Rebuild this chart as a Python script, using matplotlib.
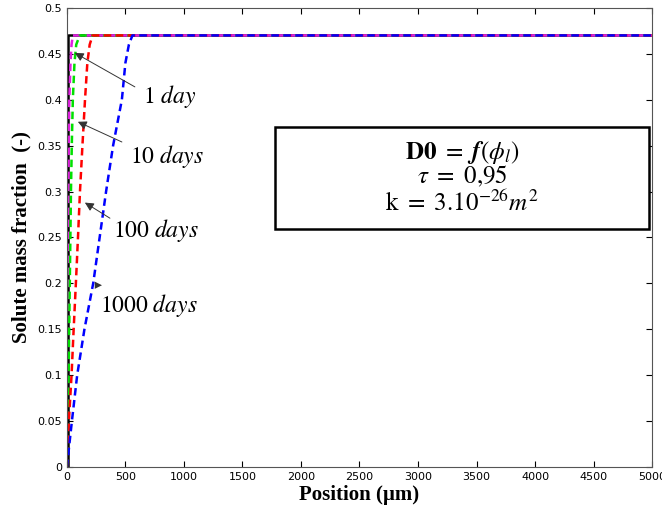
import matplotlib.pyplot as plt
from matplotlib.patches import Rectangle

plt.rcParams['mathtext.fontset'] = 'stix'

# solute profile: x position (um) at each mass fraction level
y_levels = [0, 0.05, 0.1, 0.15, 0.2, 0.25, 0.3, 0.35, 0.4, 0.44, 0.46, 0.47]
x_initial = [10, 10, 10, 10, 10, 10, 10, 10, 10, 10, 10, 10]
x_1day = [0, 3, 5, 7, 9, 11, 13, 16, 21, 31, 40, 51]
x_10days = [0, 8, 15, 20, 25, 30, 35, 42, 51, 65, 80, 110]
x_100days = [0, 17, 40, 58, 77, 95, 112, 133, 155, 175, 195, 220]
x_1000days = [0, 43, 88, 150, 225, 280, 335, 395, 470, 500, 530, 560]
x_end = 5000
plateau = 0.47

yticks = [0, 0.05, 0.1, 0.15, 0.2, 0.25, 0.3, 0.35, 0.4, 0.45, 0.5]
ytick_labels = ["0", "0.05", "0.1", "0.15", "0.2", "0.25", "0.3", "0.35", "0.4", "0.45", "0.5"]
xticks = list(range(0, 5001, 500))

fig = plt.figure(figsize=(6.62, 5.26), dpi=100)
ax = fig.add_axes([0.101, 0.112, 0.884, 0.873])

# black initial profile
ax.plot(x_initial + [x_end], y_levels + [plateau], color="black", lw=1.8)

curves = [(x_1day, "#e020e0"), (x_10days, "#00e000"), (x_100days, "red"), (x_1000days, "blue")]
for xs, c in curves:
    ax.plot(xs + [x_end], y_levels + [plateau], color=c, lw=1.8, ls=(0, (3, 1.8)))

ax.set_xlim(0, 5000)
ax.set_ylim(0, 0.5)
ax.set_xticks(xticks)
ax.set_yticks(yticks)
ax.set_yticklabels(ytick_labels)
ax.tick_params(direction="in", top=True, right=True, labelsize=8, length=4)
for s in ax.spines.values():
    s.set_color("#555555")

ax.set_xlabel("Position (µm)", family="Liberation Serif", fontweight="bold", fontsize=15, labelpad=2)
ax.set_ylabel("Solute mass fraction  (-)", family="Liberation Serif", fontweight="bold", fontsize=15, labelpad=4)

# labels and arrows
ax.text(650, 0.404, r"$1\ day$", fontsize=17, va="center")
ax.text(540, 0.338, r"$10\ days$", fontsize=17, va="center")
ax.text(393, 0.258, r"$100\ days$", fontsize=17, va="center")
ax.text(285, 0.176, r"$1000\ days$", fontsize=17, va="center")

arrow = dict(arrowstyle="-|>", color="#333333", lw=0.7, mutation_scale=13, shrinkA=0, shrinkB=0)
ax.annotate("", xy=(68, 0.451), xytext=(581, 0.414), arrowprops=arrow)
ax.annotate("", xy=(94, 0.376), xytext=(470, 0.354), arrowprops=arrow)
ax.annotate("", xy=(154, 0.288), xytext=(368, 0.271), arrowprops=arrow)
ax.annotate("", xy=(300, 0.198), xytext=(240, 0.198), arrowprops=dict(arrow, lw=0))

ax.add_patch(Rectangle((1778, 0.259), 3196, 0.111, fc="white", ec="black", lw=1.8, zorder=3))
ax.text(3376, 0.343, r"$\mathbf{D0}\ =\ \boldsymbol{f}(\boldsymbol{\phi_l})$", fontsize=18, ha="center", va="center", zorder=4)
ax.text(3376, 0.316, r"$\tau\ =\ 0{,}95$", fontsize=18, ha="center", va="center", zorder=4)
ax.text(3376, 0.287, r"$\mathrm{k}\ =\ 3.10^{-26}m^2$", fontsize=18, ha="center", va="center", zorder=4)

fig.savefig("out.png", dpi=100)
